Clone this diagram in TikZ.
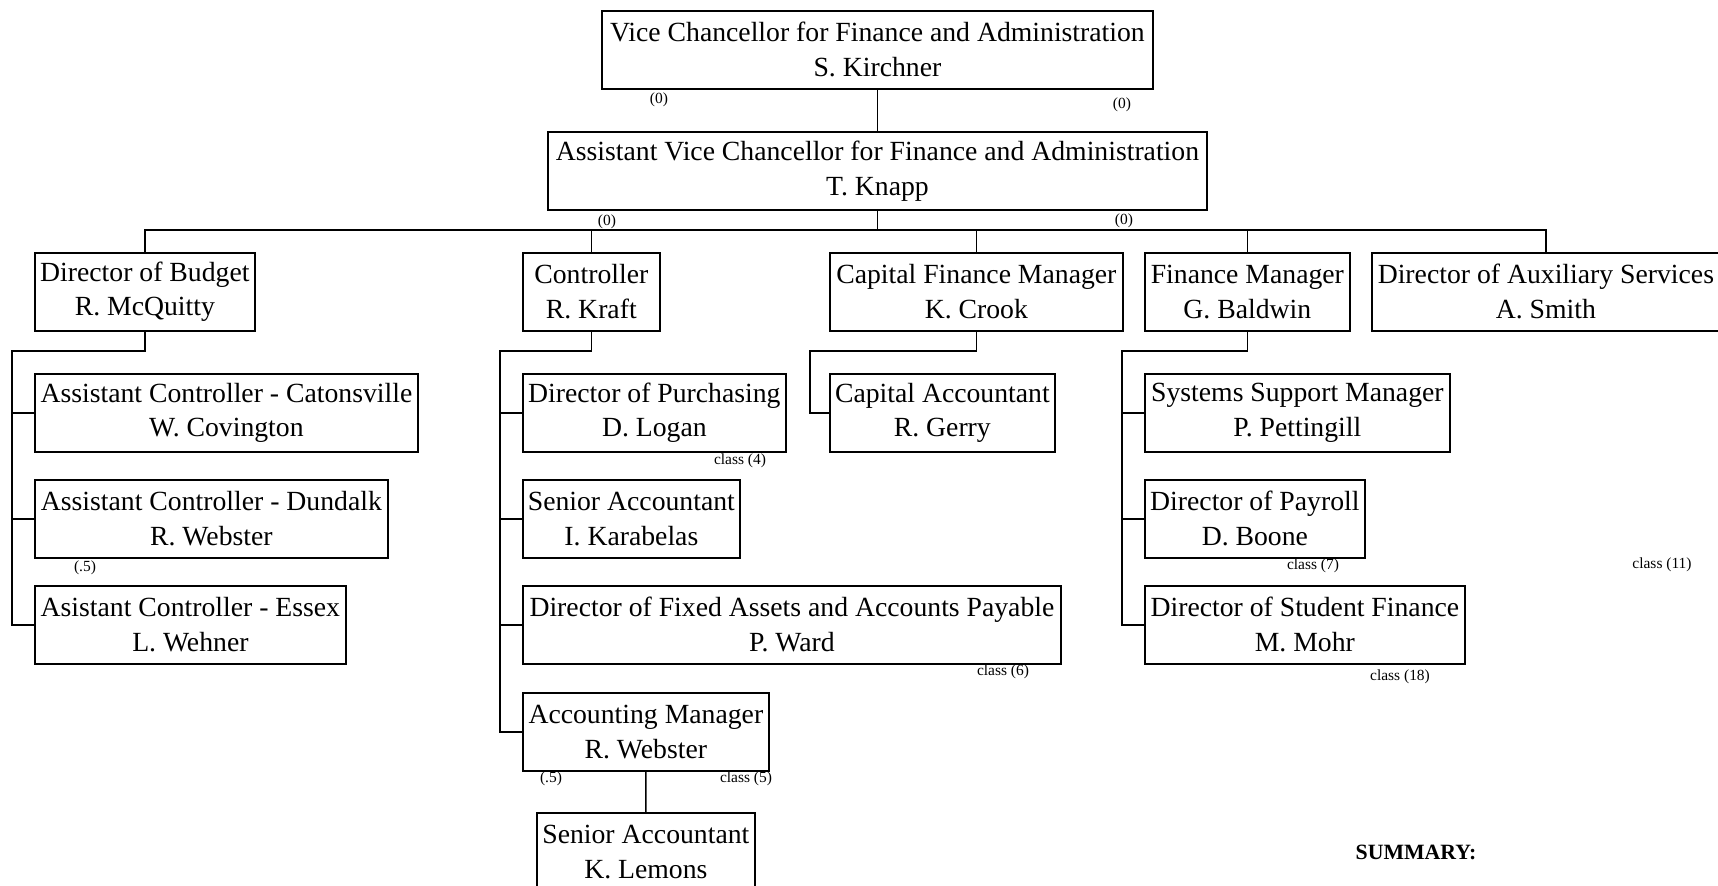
\documentclass[tikz,border=0pt]{standalone}
\usepackage{fontspec}
\setmainfont{Liberation Serif}
\newcommand{\boxfont}{\fontsize{7.88}{9.9}\selectfont}
\newcommand{\tallyfont}{\fontsize{4.4}{5}\selectfont}
\tikzset{
  unit/.style={draw, line width=0.45pt, anchor=north west, align=center,
    minimum height=0.78cm, inner sep=0pt, font=\boxfont},
  tally/.style={inner sep=0pt, font=\tallyfont},
  link/.style={line width=0.45pt},
}
\begin{document}
\begin{tikzpicture}[x=0.01cm,y=-0.01cm]
\useasboundingbox (0,0) rectangle (1718,886);
\clip (0,0) rectangle (1718,886);
% top of the chart
\node[unit, minimum width=5.51cm] (vc) at (601,10) {Vice Chancellor for Finance and Administration\\S. Kirchner};
\node[unit, minimum width=6.59cm] (avc) at (547,131) {Assistant Vice Chancellor for Finance and Administration\\T. Knapp};
% second level
\node[unit, minimum width=2.20cm] (bud) at (34,252) {Director of Budget\\R. McQuitty};
\node[unit, minimum width=1.37cm] (ctl) at (522,252) {Controller\\R. Kraft};
\node[unit, minimum width=2.93cm] (cfm) at (829,252) {Capital Finance Manager\\K. Crook};
\node[unit, minimum width=2.05cm] (fin) at (1144,252) {Finance Manager\\G. Baldwin};
\node[unit, minimum width=3.48cm] (aux) at (1371,252) {Director of Auxiliary Services\\A. Smith};
% under budget
\node[unit, minimum width=3.83cm] (cat) at (34,373) {Assistant Controller - Catonsville\\W. Covington};
\node[unit, minimum width=3.53cm] (dun) at (34,479) {Assistant Controller - Dundalk\\R. Webster};
\node[unit, minimum width=3.11cm] (ess) at (34,585) {Asistant Controller - Essex\\L. Wehner};
% under controller
\node[unit, minimum width=2.63cm] (pur) at (522,373) {Director of Purchasing\\D. Logan};
\node[unit, minimum width=2.17cm] (sak) at (522,479) {Senior Accountant\\I. Karabelas};
\node[unit, minimum width=5.38cm] (fix) at (522,585) {Director of Fixed Assets and Accounts Payable\\P. Ward};
\node[unit, minimum width=2.46cm] (acm) at (522,692) {Accounting Manager\\R. Webster};
\node[unit, minimum width=2.18cm] (sal) at (536,812) {Senior Accountant\\K. Lemons};
% under capital finance
\node[unit, minimum width=2.25cm] (cac) at (829,373) {Capital Accountant\\R. Gerry};
% under finance manager
\node[unit, minimum width=3.05cm] (ssm) at (1144,373) {Systems Support Manager\\P. Pettingill};
\node[unit, minimum width=2.20cm] (pay) at (1144,479) {Director of Payroll\\D. Boone};
\node[unit, minimum width=3.20cm] (stf) at (1144,585) {Director of Student Finance\\M. Mohr};

% connectors
\coordinate (bus) at (876,230);
\coordinate (budspine) at (12,351);
\coordinate (ctlspine) at (500,351);
\coordinate (cfmspine) at (810,351);
\coordinate (finspine) at (1122,351);
\draw[link] (vc.south) -- (vc.south |- avc.north);
\draw[link] (avc.south) -- (avc.south |- bus);
\draw[link] (bud.north) |- (bus) -| (aux.north);
\draw[link] (ctl.north) -- (ctl.north |- bus);
\draw[link] (cfm.north) -- (cfm.north |- bus);
\draw[link] (fin.north) -- (fin.north |- bus);
\draw[link] (bud.south) |- (budspine) |- (ess.west);
\foreach \n in {cat,dun} \draw[link] (\n.west) -- (\n.west -| budspine);
\draw[link] (ctl.south) |- (ctlspine) |- (acm.west);
\foreach \n in {pur,sak,fix} \draw[link] (\n.west) -- (\n.west -| ctlspine);
\draw[link] (acm.south) -- (sal.north);
\draw[link] (cfm.south) |- (cfmspine) |- (cac.west);
\draw[link] (fin.south) |- (finspine) |- (stf.west);
\foreach \n in {ssm,pay} \draw[link] (\n.west) -- (\n.west -| finspine);

% counts
\node[tally] (vcl) at (659,100) {(0)};
\node[tally] (vcr) at (1122,105) {(0)};
\node[tally] (avcl) at (607,222) {(0)};
\node[tally] (avcr) at (1124,221) {(0)};
\node[tally] (dunc) at (85,568) {(.5)};
\node[tally] (acml) at (551,779) {(.5)};
\node[tally] (acmr) at (746,779) {class (5)};
\node[tally] (purc) at (740,461) {class (4)};
\node[tally] (fixc) at (1003,672) {class (6)};
\node[tally] (payc) at (1313,566) {class (7)};
\node[tally] (stfc) at (1400,677) {class (18)};
\node[tally] (auxc) at (1662,565) {class (11)};
\node[font=\fontsize{6.2}{7}\selectfont\bfseries, inner sep=0pt] (sum) at (1416,852) {SUMMARY:};
\end{tikzpicture}
\end{document}
